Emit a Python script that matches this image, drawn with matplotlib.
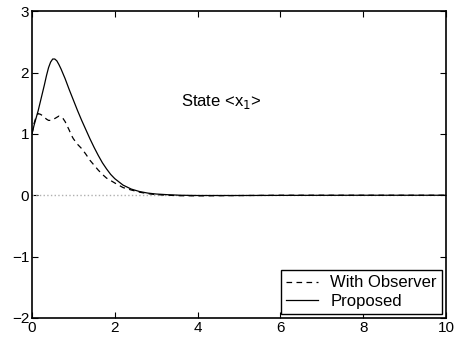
import numpy as np
import matplotlib.pyplot as plt

plt.rcParams['font.family'] = ['Liberation Sans', 'DejaVu Sans']

# State x1, proposed controller
t = np.array([0, 0.05, 0.1, 0.15, 0.2, 0.25, 0.3, 0.35, 0.4, 0.45, 0.5, 0.55, 0.6, 0.65,
              0.7, 0.8, 0.9, 1.0, 1.1, 1.2, 1.3, 1.4, 1.5, 1.6, 1.7, 1.8, 1.9, 2.0,
              2.2, 2.4, 2.6, 2.8, 3.0, 3.3, 3.6, 4.0, 5.0, 6.0, 8.0, 10.0])
proposed = np.array([1.0, 1.14, 1.26, 1.38, 1.52, 1.66, 1.8, 1.95, 2.08, 2.17, 2.22, 2.22,
                     2.19, 2.13, 2.06, 1.9, 1.72, 1.55, 1.38, 1.22, 1.07, 0.92, 0.78,
                     0.65, 0.53, 0.43, 0.34, 0.27, 0.165, 0.1, 0.06, 0.035, 0.02, 0.008,
                     0.0, -0.004, -0.004, -0.002, 0.0, 0.0])

# State x1, observer-based controller
t_obs = np.array([0, 0.05, 0.1, 0.15, 0.2, 0.25, 0.3, 0.35, 0.4, 0.45, 0.5, 0.55, 0.6,
                  0.65, 0.7, 0.75, 0.8, 0.85, 0.9, 0.95, 1.0, 1.1, 1.2, 1.3, 1.4, 1.5,
                  1.6, 1.7, 1.8, 1.9, 2.0, 2.2, 2.4, 2.6, 2.8, 3.0, 3.3, 3.6, 4.0, 5.0,
                  6.0, 8.0, 10.0])
with_observer = np.array([1.0, 1.17, 1.28, 1.33, 1.32, 1.30, 1.27, 1.24, 1.22, 1.22, 1.23,
                          1.25, 1.27, 1.29, 1.28, 1.25, 1.2, 1.13, 1.06, 0.98, 0.92,
                          0.83, 0.76, 0.67, 0.57, 0.49, 0.41, 0.34, 0.28, 0.24, 0.2,
                          0.125, 0.085, 0.05, 0.025, 0.01, 0.0, -0.008, -0.01, -0.005,
                          0.0, 0.0, 0.0])

fig = plt.figure(figsize=(4.57, 3.44), dpi=100)
ax = fig.add_axes([0.070, 0.0756, 0.906, 0.892])

ax.plot([0, 10], [0, 0], ':', color='#b0b0b0', linewidth=1)
ax.plot(t_obs, with_observer, color='black', linewidth=0.9, dashes=(4.5, 3.5),
        label='With Observer')
ax.plot(t, proposed, '-', color='black', linewidth=0.9, label='Proposed')

ax.text(3.6, 1.52, 'State <x$_1$>', fontsize=12, va='center')

ax.set_xlim(0, 10)
ax.set_ylim(-2, 3)
ax.set_xticks([0, 2, 4, 6, 8, 10])
ax.set_yticks([-2, -1, 0, 1, 2, 3])
ax.set_yticklabels(['\u22122', '\u22121', '0', '1', '2', '3'])
ax.tick_params(direction='in', top=True, right=True, length=4, labelsize=11, pad=2)
for s in ax.spines.values():
    s.set_linewidth(1.2)

leg = ax.legend(loc='lower right', fontsize=12, fancybox=False, framealpha=1,
                edgecolor='black', borderaxespad=0.25, handlelength=1.9,
                handletextpad=0.75, borderpad=0.3, labelspacing=0.2)
leg.get_frame().set_linewidth(1.0)

fig.savefig('out.png', dpi=100)
